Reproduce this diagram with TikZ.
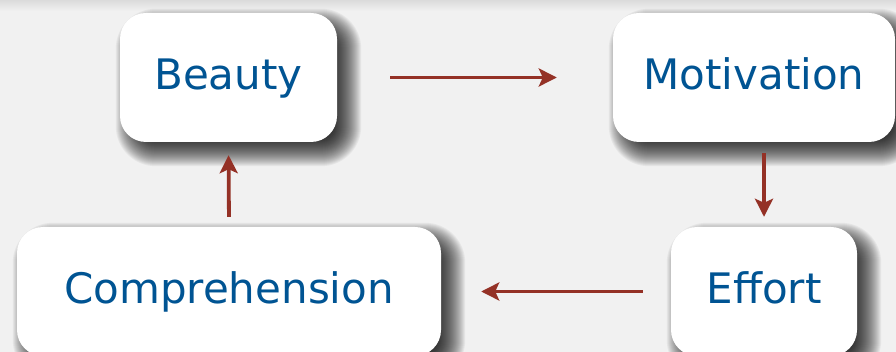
\documentclass[tikz,border=0pt]{standalone}
\usepackage{fontspec}
\setmainfont{DejaVu Sans}
\usetikzlibrary{arrows.meta,calc,backgrounds}
\definecolor{pagegray}{RGB}{241,241,241}
\definecolor{wordblue}{RGB}{0,84,147}
\definecolor{arrowred}{RGB}{148,49,38}
\tikzset{
  card/.style={fill=white, rounded corners=26pt, inner sep=0pt,
    minimum height=129pt, text height=36pt, text depth=11pt,
    font=\fontsize{42}{50}\selectfont, text=wordblue},
  flow/.style={draw=arrowred, line width=3.8pt,
    -{Stealth[length=18pt,width=18pt,inset=4pt]}}
}
\begin{document}
\begin{tikzpicture}[x=1pt,y=-1pt]
\useasboundingbox (0,0) rectangle (896,352);
% soft shadow below right of a card
\def\cardshadow#1{\foreach \k in {-14,...,14}{
  \fill[black, opacity=.046, rounded corners={26pt+\k pt}]
    ($(#1.north west)+(10-\k,10-\k)$) rectangle ($(#1.south east)+(10+\k,10+\k)$);}}

\node[card, minimum width=217pt] (beauty) at (228.5,77.5) {Beauty};
\node[card, minimum width=282pt] (motiv) at (754,77.5) {Motivation};
\node[card, minimum width=186pt] (effort) at (764,291.5) {Effort};
\node[card, minimum width=424pt] (compr) at (229,291.5) {Comprehension};

\begin{scope}[on background layer]
\clip (0,0) rectangle (896,352);
\fill[pagegray] (0,0) rectangle (896,352);
\shade[top color=black!14, bottom color=pagegray] (0,0) rectangle (896,11); % top edge
\cardshadow{beauty} \cardshadow{motiv} \cardshadow{effort} \cardshadow{compr}
\end{scope}

\draw[flow, shorten <=53pt, shorten >=56pt] (beauty) -- (motiv);
\draw[flow, shorten <=11pt, shorten >=10pt] (motiv.south -| effort) -- (effort.north);
\draw[flow, shorten <=28pt, shorten >=40pt] (effort.west) -- (compr.east);
\draw[flow, shorten <=10pt, shorten >=13pt] (compr.north) -- (beauty.south);
\end{tikzpicture}
\end{document}
